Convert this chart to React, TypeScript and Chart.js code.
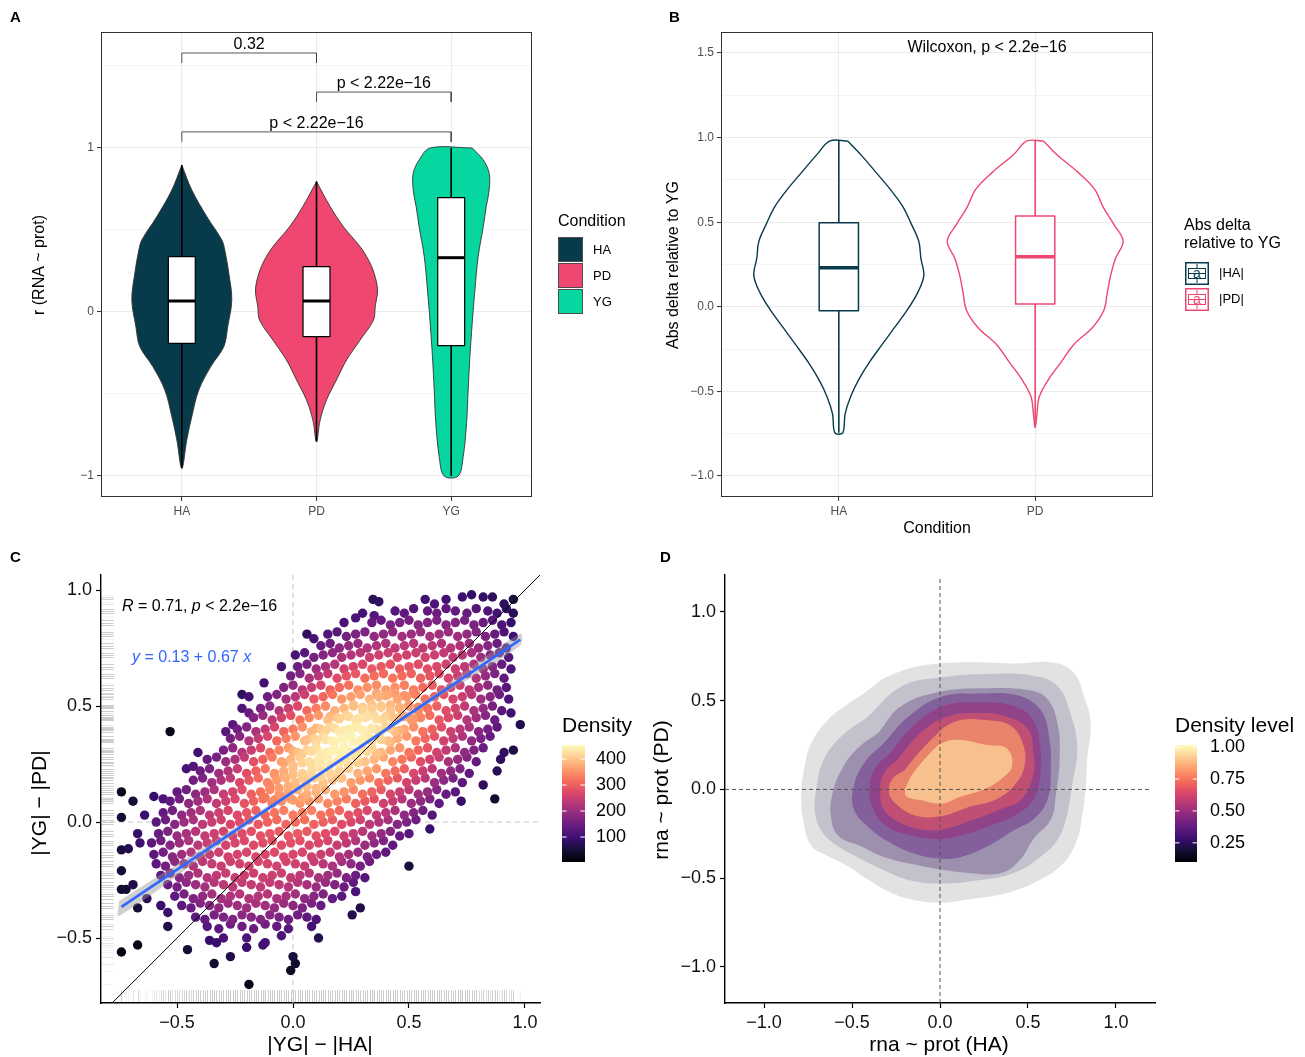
import React, { useEffect, useRef } from "react";
import { Chart, registerables } from "chart.js";

Chart.register(...registerables);

const FONT = "'Liberation Sans', Arial, Helvetica, sans-serif";
const MINUS = "\u2212";

/* ================= Panel A data ================= */
const condA = ["HA", "PD", "YG"];
const condColors = ["#073B4C", "#EF476F", "#06D6A0"];
const vioA_HA_y = [0.896, 0.744, 0.581, 0.439, 0.378, 0.236, 0.073, -0.089, -0.211, -0.333, -0.476, -0.638, -0.78, -0.953];
const vioA_HA_w = [0, 0.074, 0.186, 0.297, 0.319, 0.349, 0.371, 0.341, 0.312, 0.215, 0.126, 0.074, 0.037, 0];
const vioA_PD_y = [0.795, 0.642, 0.52, 0.398, 0.317, 0.236, 0.134, 0.033, -0.049, -0.171, -0.293, -0.415, -0.537, -0.659, -0.791];
const vioA_PD_w = [0, 0.102, 0.2, 0.324, 0.386, 0.428, 0.453, 0.436, 0.423, 0.324, 0.223, 0.148, 0.074, 0.027, 0];
const vioA_YG_y = [1.0, 0.927, 0.846, 0.744, 0.642, 0.52, 0.337, 0.134, -0.069, -0.272, -0.476, -0.679, -0.882, -1.0];
const vioA_YG_w = [0.156, 0.238, 0.282, 0.282, 0.26, 0.238, 0.2, 0.176, 0.156, 0.139, 0.126, 0.114, 0.089, 0.052];
const boxA_lo = [-0.953, -0.791, -1.0];
const boxA_q1 = [-0.191, -0.15, -0.205];
const boxA_med = [0.067, 0.067, 0.331];
const boxA_q3 = [0.337, 0.276, 0.697];
const boxA_hi = [0.896, 0.795, 1.0];
const brA_from = [1, 2, 1];
const brA_to = [2, 3, 3];
const brA_y = [1.579, 1.341, 1.098];
const brA_label = ["0.32", "p < 2.22e" + MINUS + "16", "p < 2.22e" + MINUS + "16"];
const yMajorA = [-1, 0, 1];
const yMinorA = [-0.5, 0.5, 1.5];

/* ================= Panel B data ================= */
const condB = ["HA", "PD"];
const condBLabels = ["|HA|", "|PD|"];
const vioB_HA_y = [0.98, 0.898, 0.796, 0.694, 0.592, 0.49, 0.388, 0.286, 0.184, 0.082, -0.02, -0.122, -0.224, -0.327, -0.429, -0.531, -0.633, -0.745];
const vioB_HA_w = [0.045, 0.113, 0.188, 0.262, 0.326, 0.369, 0.407, 0.418, 0.433, 0.401, 0.348, 0.284, 0.22, 0.156, 0.102, 0.06, 0.032, 0.02];
const vioB_PD_y = [0.98, 0.898, 0.796, 0.694, 0.592, 0.49, 0.388, 0.286, 0.184, 0.082, -0.02, -0.122, -0.224, -0.327, -0.429, -0.531, -0.633, -0.714];
const vioB_PD_w = [0.042, 0.111, 0.217, 0.303, 0.345, 0.399, 0.448, 0.409, 0.384, 0.367, 0.35, 0.292, 0.196, 0.132, 0.068, 0.021, 0.009, 0];
const boxB_lo = [-0.745, -0.714];
const boxB_q1 = [-0.024, 0.016];
const boxB_med = [0.231, 0.296];
const boxB_q3 = [0.496, 0.537];
const boxB_hi = [0.98, 0.98];
const yMajorB = [-1, -0.5, 0, 0.5, 1, 1.5];
const yMinorB = [-0.75, -0.25, 0.25, 0.75, 1.25];

/* ================= Panel C data ================= */
const corrR = 0.71;
const regIntercept = 0.13;
const regSlope = 0.67;
const bandX = [-0.75, -0.3, 0.15, 0.6, 0.98];
const bandHalf = [0.032, 0.016, 0.009, 0.014, 0.026];
const ticksC = [-0.5, 0, 0.5, 1.0];
const cbC_ticks = [100, 200, 300, 400];
const cbC_min = 4;
const cbC_max = 454;
const ptsC: number[][] = [
  [.345,.96],[.37,.95],[.57,.96],[.61,.94],[.66,.96],[.73,.97],[.77,.98],[.82,.97],[.86,.97],[.91,.94],[.95,.96],
  [.27,.88],[.30,.90],[.35,.89],[.44,.91],[.48,.90],[.52,.92],[.58,.91],[.62,.90],[.66,.92],[.70,.91],[.75,.90],[.79,.92],[.84,.91],[.88,.90],[.92,.92],[.95,.90],
  [.22,.86],[.34,.86],[.38,.87],[.42,.85],[.46,.86],[.50,.87],[.54,.85],[.58,.86],[.62,.87],[.66,.85],[.70,.86],[.74,.87],[.78,.85],[.82,.86],[.86,.87],[.90,.85],[.94,.86],
  [.06,.81],[.09,.79],[.15,.81],[.19,.82],[.23,.80],[.27,.81],[.31,.82],[.35,.80],[.39,.81],[.43,.82],[.47,.80],[.51,.81],[.55,.82],[.59,.80],[.63,.81],[.67,.82],[.71,.80],[.75,.81],[.79,.82],[.83,.80],[.87,.81],[.91,.82],[.95,.80],
  [.12,.76],[.16,.77],[.20,.75],[.24,.76],[.28,.77],[.32,.75],[.36,.76],[.40,.77],[.44,.75],[.48,.76],[.52,.77],[.56,.75],[.60,.76],[.64,.77],[.68,.75],[.72,.76],[.76,.77],[.80,.75],[.84,.76],[.88,.77],[.92,.75],
  [.01,.72],[.05,.73],[.09,.71],[.13,.72],[.17,.73],[.21,.71],[.25,.72],[.29,.73],[.33,.71],[.37,.72],[.41,.73],[.45,.71],[.49,.72],[.53,.73],[.57,.71],[.61,.72],[.65,.73],[.69,.71],[.73,.72],[.77,.73],[.81,.71],[.85,.72],[.89,.73],[.93,.71],
  [-.05,.67],[.02,.67],[.06,.68],[.10,.66],[.14,.67],[.18,.68],[.22,.66],[.26,.67],[.30,.68],[.34,.66],[.38,.67],[.42,.68],[.46,.66],[.50,.67],[.54,.68],[.58,.66],[.62,.67],[.66,.68],[.70,.66],[.74,.67],[.78,.68],[.82,.66],[.86,.67],[.90,.68],[.94,.66],
  [-.125,.60],[-.01,.63],[.03,.64],[.07,.62],[.11,.63],[.15,.64],[.19,.62],[.23,.63],[.27,.64],[.31,.62],[.35,.63],[.39,.64],[.43,.62],[.47,.63],[.51,.64],[.55,.62],[.59,.63],[.63,.64],[.67,.62],[.71,.63],[.75,.64],[.79,.62],[.83,.63],[.87,.64],[.91,.62],
  [-.04,.58],[.00,.59],[.04,.57],[.08,.58],[.12,.59],[.16,.57],[.20,.58],[.24,.59],[.28,.57],[.32,.58],[.36,.59],[.40,.57],[.44,.58],[.48,.59],[.52,.57],[.56,.58],[.60,.59],[.64,.57],[.68,.58],[.72,.59],[.76,.57],[.80,.58],[.84,.59],[.88,.57],[.92,.58],
  [-.22,.55],[-.19,.54],[-.11,.54],[-.07,.55],[-.03,.53],[.01,.54],[.05,.55],[.09,.53],[.13,.54],[.17,.55],[.21,.53],[.25,.54],[.29,.55],[.33,.53],[.37,.54],[.41,.55],[.45,.53],[.49,.54],[.53,.55],[.57,.53],[.61,.54],[.65,.55],[.69,.53],[.73,.54],[.77,.55],[.81,.53],[.85,.54],[.89,.55],[.93,.53],
  [-.22,.49],[-.19,.47],[-.14,.49],[-.10,.50],[-.06,.48],[-.02,.49],[.02,.50],[.06,.48],[.10,.49],[.14,.50],[.18,.48],[.22,.49],[.26,.50],[.30,.48],[.34,.49],[.38,.50],[.42,.48],[.46,.49],[.50,.50],[.54,.48],[.58,.49],[.62,.50],[.66,.48],[.70,.49],[.74,.50],[.78,.48],[.82,.49],[.86,.50],[.90,.48],[.94,.47],
  [-.26,.42],[-.17,.45],[-.13,.46],[-.09,.44],[-.05,.45],[-.01,.46],[.03,.44],[.07,.45],[.11,.46],[.15,.44],[.19,.45],[.23,.46],[.27,.44],[.31,.45],[.35,.46],[.39,.44],[.43,.45],[.47,.46],[.51,.44],[.55,.45],[.59,.46],[.63,.44],[.67,.45],[.71,.46],[.75,.44],[.79,.45],[.83,.46],[.87,.44],[.98,.42],
  [-.53,.39],[-.29,.39],[-.24,.40],[-.20,.41],[-.16,.39],[-.12,.40],[-.08,.41],[-.04,.39],[.00,.40],[.04,.41],[.08,.39],[.12,.40],[.16,.41],[.20,.39],[.24,.40],[.28,.41],[.32,.39],[.36,.40],[.40,.41],[.44,.39],[.48,.40],[.52,.41],[.56,.39],[.60,.40],[.64,.41],[.68,.39],[.72,.40],[.76,.41],[.80,.39],[.84,.40],[.88,.41],
  [-.27,.36],[-.23,.37],[-.19,.35],[-.15,.36],[-.11,.37],[-.07,.35],[-.03,.36],[.01,.37],[.05,.35],[.09,.36],[.13,.37],[.17,.35],[.21,.36],[.25,.37],[.29,.35],[.33,.36],[.37,.37],[.41,.35],[.45,.36],[.49,.37],[.53,.35],[.57,.36],[.61,.37],[.65,.35],[.69,.36],[.73,.37],[.77,.35],[.81,.36],[.85,.37],
  [-.41,.30],[-.30,.31],[-.26,.32],[-.22,.30],[-.18,.31],[-.14,.32],[-.10,.30],[-.06,.31],[-.02,.32],[.02,.30],[.06,.31],[.10,.32],[.14,.30],[.18,.31],[.22,.32],[.26,.30],[.30,.31],[.34,.32],[.38,.30],[.42,.31],[.46,.32],[.50,.30],[.54,.31],[.58,.32],[.62,.30],[.66,.31],[.70,.32],[.74,.30],[.78,.31],[.82,.32],[.91,.30],[.95,.31],
  [-.37,.27],[-.33,.28],[-.29,.26],[-.25,.27],[-.21,.28],[-.17,.26],[-.13,.27],[-.09,.28],[-.05,.26],[-.01,.27],[.03,.28],[.07,.26],[.11,.27],[.15,.28],[.19,.26],[.23,.27],[.27,.28],[.31,.26],[.35,.27],[.39,.28],[.43,.26],[.47,.27],[.51,.28],[.55,.26],[.59,.27],[.63,.28],[.67,.26],[.71,.27],[.75,.28],[.79,.26],[.895,.27],
  [-.46,.23],[-.43,.24],[-.40,.22],[-.36,.23],[-.32,.21],[-.28,.22],[-.24,.23],[-.20,.21],[-.16,.22],[-.12,.23],[-.08,.21],[-.04,.22],[.00,.23],[.04,.21],[.08,.22],[.12,.23],[.16,.21],[.20,.22],[.24,.23],[.28,.21],[.32,.22],[.36,.23],[.40,.21],[.44,.22],[.48,.23],[.52,.21],[.56,.22],[.60,.23],[.64,.21],[.68,.22],[.72,.23],[.76,.21],[.88,.22],
  [-.43,.18],[-.39,.19],[-.35,.17],[-.31,.18],[-.27,.19],[-.23,.17],[-.19,.18],[-.15,.19],[-.11,.17],[-.07,.18],[-.03,.19],[.01,.17],[.05,.18],[.09,.19],[.13,.17],[.17,.18],[.21,.19],[.25,.17],[.29,.18],[.33,.19],[.37,.17],[.41,.18],[.45,.19],[.49,.17],[.53,.18],[.57,.19],[.61,.17],[.65,.18],[.69,.19],[.73,.17],[.82,.16],
  [-.74,.13],[-.50,.13],[-.46,.14],[-.42,.12],[-.38,.13],[-.34,.14],[-.30,.12],[-.26,.13],[-.22,.14],[-.18,.12],[-.14,.13],[-.10,.14],[-.06,.12],[-.02,.13],[.02,.14],[.06,.12],[.10,.13],[.14,.14],[.18,.12],[.22,.13],[.26,.14],[.30,.12],[.34,.13],[.38,.14],[.42,.12],[.46,.13],[.50,.14],[.54,.12],[.58,.13],[.62,.14],[.66,.12],[.70,.13],
  [-.69,.09],[-.60,.11],[-.56,.10],[-.53,.09],[-.49,.10],[-.45,.08],[-.41,.09],[-.37,.10],[-.33,.08],[-.29,.09],[-.25,.10],[-.21,.08],[-.17,.09],[-.13,.10],[-.09,.08],[-.05,.09],[-.01,.10],[.03,.08],[.07,.09],[.11,.10],[.15,.08],[.19,.09],[.23,.10],[.27,.08],[.31,.09],[.35,.10],[.39,.08],[.43,.09],[.47,.10],[.51,.08],[.55,.09],[.59,.10],[.63,.08],[.725,.09],[.87,.10],
  [-.74,.02],[-.64,.03],[-.56,.04],[-.52,.05],[-.48,.03],[-.44,.04],[-.40,.05],[-.36,.03],[-.32,.04],[-.28,.05],[-.24,.03],[-.20,.04],[-.16,.05],[-.12,.03],[-.08,.04],[-.04,.05],[.00,.03],[.04,.04],[.08,.05],[.12,.03],[.16,.04],[.20,.05],[.24,.03],[.28,.04],[.32,.05],[.36,.03],[.40,.04],[.44,.05],[.48,.03],[.52,.04],[.56,.05],[.60,.03],
  [-.59,.00],[-.55,.01],[-.51,-.01],[-.47,.00],[-.43,.01],[-.39,-.01],[-.35,.00],[-.31,.01],[-.27,-.01],[-.23,.00],[-.19,.01],[-.15,-.01],[-.11,.00],[-.07,.01],[-.03,-.01],[.01,.00],[.05,.01],[.09,-.01],[.13,.00],[.17,.01],[.21,-.01],[.25,.00],[.29,.01],[.33,-.01],[.37,.00],[.41,.01],[.45,-.01],[.49,.00],[.53,.01],[.59,-.03],
  [-.67,-.05],[-.58,-.05],[-.54,-.04],[-.50,-.06],[-.46,-.05],[-.42,-.04],[-.38,-.06],[-.34,-.05],[-.30,-.04],[-.26,-.06],[-.22,-.05],[-.18,-.04],[-.14,-.06],[-.10,-.05],[-.06,-.04],[-.02,-.06],[.02,-.05],[.06,-.04],[.10,-.06],[.14,-.05],[.18,-.04],[.22,-.06],[.26,-.05],[.30,-.04],[.34,-.06],[.38,-.05],[.42,-.04],[.46,-.06],[.50,-.05],
  [-.66,-.09],[-.61,-.09],[-.57,-.08],[-.53,-.10],[-.49,-.09],[-.45,-.08],[-.41,-.10],[-.37,-.09],[-.33,-.08],[-.29,-.10],[-.25,-.09],[-.21,-.08],[-.17,-.10],[-.13,-.09],[-.09,-.08],[-.05,-.10],[-.01,-.09],[.03,-.08],[.07,-.10],[.11,-.09],[.15,-.08],[.19,-.10],[.23,-.09],[.27,-.08],[.31,-.10],[.35,-.09],[.39,-.08],[.43,-.10],
  [-.74,-.12],[-.71,-.115],[-.60,-.14],[-.56,-.13],[-.52,-.15],[-.48,-.14],[-.44,-.13],[-.40,-.15],[-.36,-.14],[-.32,-.13],[-.28,-.15],[-.24,-.14],[-.20,-.13],[-.16,-.15],[-.12,-.14],[-.08,-.13],[-.04,-.15],[.00,-.14],[.04,-.13],[.08,-.15],[.12,-.14],[.16,-.13],[.20,-.15],[.24,-.14],[.28,-.13],[.32,-.15],[.36,-.14],[.40,-.13],
  [-.74,-.21],[-.59,-.18],[-.55,-.19],[-.51,-.17],[-.47,-.18],[-.43,-.19],[-.39,-.17],[-.35,-.18],[-.31,-.19],[-.27,-.17],[-.23,-.18],[-.19,-.19],[-.15,-.17],[-.11,-.18],[-.07,-.19],[-.03,-.17],[.01,-.18],[.05,-.19],[.09,-.17],[.13,-.18],[.17,-.19],[.21,-.17],[.25,-.18],[.29,-.19],[.33,-.17],[.50,-.19],
  [-.57,-.23],[-.53,-.22],[-.49,-.24],[-.45,-.23],[-.41,-.22],[-.37,-.24],[-.33,-.23],[-.29,-.22],[-.25,-.24],[-.21,-.23],[-.17,-.22],[-.13,-.24],[-.09,-.23],[-.05,-.22],[-.01,-.24],[.03,-.23],[.07,-.22],[.11,-.24],[.15,-.23],[.19,-.22],[.23,-.24],[.27,-.23],[.31,-.24],
  [-.74,-.29],[-.72,-.29],[-.69,-.27],[-.54,-.27],[-.50,-.28],[-.46,-.26],[-.42,-.27],[-.38,-.28],[-.34,-.26],[-.30,-.27],[-.26,-.28],[-.22,-.26],[-.18,-.27],[-.14,-.28],[-.10,-.26],[-.06,-.27],[-.02,-.28],[.02,-.26],[.06,-.27],[.10,-.28],[.14,-.26],[.18,-.27],[.22,-.28],[.26,-.26],
  [-.63,-.33],[-.51,-.32],[-.47,-.31],[-.43,-.33],[-.39,-.32],[-.35,-.31],[-.31,-.33],[-.27,-.32],[-.23,-.31],[-.19,-.33],[-.15,-.32],[-.11,-.31],[-.07,-.33],[-.03,-.32],[.01,-.31],[.05,-.33],[.09,-.32],[.13,-.31],[.17,-.33],[.21,-.32],[.27,-.30],
  [-.67,-.37],[-.57,-.36],[-.48,-.36],[-.44,-.37],[-.40,-.35],[-.36,-.36],[-.32,-.37],[-.28,-.35],[-.24,-.36],[-.20,-.37],[-.16,-.35],[-.12,-.36],[-.08,-.37],[-.04,-.35],[.00,-.36],[.04,-.37],[.08,-.35],[.12,-.36],[.255,-.40],[.29,-.37],
  [-.54,-.39],[-.42,-.41],[-.38,-.42],[-.34,-.40],[-.30,-.41],[-.26,-.42],[-.22,-.40],[-.18,-.41],[-.14,-.42],[-.10,-.40],[-.06,-.41],[-.02,-.42],[.02,-.40],[.06,-.41],[.10,-.42],
  [-.54,-.45],[-.37,-.45],[-.32,-.46],[-.27,-.44],[-.22,-.45],[-.17,-.46],[-.12,-.44],[-.07,-.45],[-.02,-.46],[.08,-.45],[.11,-.50],
  [-.36,-.51],[-.30,-.50],[-.20,-.50],[-.12,-.52],[-.05,-.49],
  [-.74,-.56],[-.67,-.53],[-.455,-.55],[-.33,-.52],[-.27,-.58],[-.20,-.54],[-.13,-.53],[-.34,-.61],[-.01,-.64],[.00,-.58],[.01,-.61],[-.19,-.70],
  [.36,.555],[.40,.545],[.44,.555],[.48,.545],[.52,.555],
  [.26,.505],[.30,.495],[.34,.505],[.38,.495],[.42,.505],[.46,.495],[.50,.505],[.54,.495],
  [.16,.455],[.20,.445],[.24,.455],[.28,.445],[.32,.455],[.36,.445],[.40,.455],[.44,.445],[.48,.455],[.52,.445],
  [.10,.405],[.14,.395],[.18,.405],[.22,.395],[.26,.405],[.30,.395],[.34,.405],[.38,.395],[.42,.405],[.46,.395],
  [.06,.355],[.10,.345],[.14,.355],[.18,.345],[.22,.355],[.26,.345],[.30,.355],[.34,.345],[.38,.355],[.42,.345],
  [.00,.305],[.04,.295],[.08,.305],[.12,.295],[.16,.305],[.20,.295],[.24,.305],[.28,.295],[.32,.305],[.36,.295],
  [-.04,.255],[.00,.245],[.04,.255],[.08,.245],[.12,.255],[.16,.245],[.20,.255],[.24,.245],[.28,.255],
  [-.08,.205],[-.04,.195],[.00,.205],[.04,.195],[.08,.205],[.12,.195],[.16,.205],[.20,.195],
  [-.10,.155],[-.06,.145],[-.02,.155],[.02,.145],[.06,.155],[.10,.145],
  [-.12,.105],[-.08,.095],[-.04,.105],[.00,.095],[.04,.105],
];

/* ================= Panel D data ================= */
const ticksD = [-1, -0.5, 0, 0.5, 1];
const contourColors = ["#e2e2e2", "#c3c1cb", "#9d8fae", "#83609b", "#91438a", "#c14f73", "#ea836b", "#f8c08c"];
const contourX = [
  [-0.334, -0.164, 0.002, 0.195, 0.44, 0.648, 0.761, 0.818, 0.856, 0.837, 0.827, 0.808, 0.78, 0.704, 0.572, 0.383, 0.157, 0.002, -0.164, -0.278, -0.41, -0.523, -0.636, -0.731, -0.778, -0.788, -0.769, -0.731, -0.636, -0.542, -0.429],
  [-0.41, -0.22, 0, 0.27, 0.53, 0.67, 0.74, 0.78, 0.75, 0.72, 0.67, 0.57, 0.42, 0.23, 0, -0.18, -0.33, -0.47, -0.58, -0.67, -0.71, -0.7, -0.66, -0.56],
  [-0.35, -0.22, 0, 0.25, 0.5, 0.61, 0.67, 0.68, 0.66, 0.63, 0.53, 0.46, 0.35, 0.16, 0, -0.16, -0.32, -0.45, -0.58, -0.62, -0.61, -0.56, -0.47],
  [-0.32, -0.18, 0, 0.23, 0.44, 0.57, 0.62, 0.63, 0.61, 0.53, 0.42, 0.27, 0.12, 0, -0.15, -0.3, -0.41, -0.49, -0.49, -0.43],
  [-0.28, -0.15, 0.02, 0.23, 0.42, 0.53, 0.57, 0.57, 0.53, 0.42, 0.27, 0.12, 0, -0.16, -0.3, -0.38, -0.4, -0.36],
  [-0.24, -0.11, 0.04, 0.23, 0.38, 0.5, 0.53, 0.53, 0.46, 0.35, 0.19, 0.04, -0.07, -0.22, -0.32, -0.34, -0.32],
  [-0.2, -0.07, 0.08, 0.27, 0.4, 0.47, 0.48, 0.42, 0.31, 0.16, 0.01, -0.13, -0.24, -0.29, -0.27],
  [-0.2, -0.16, -0.07, 0.01, 0.1, 0.27, 0.38, 0.41, 0.35, 0.25, 0.12, 0.01, -0.11, -0.19],
];
const contourY = [
  [0.62, 0.685, 0.71, 0.717, 0.71, 0.714, 0.657, 0.526, 0.376, 0.169, 0, -0.15, -0.282, -0.413, -0.507, -0.582, -0.62, -0.638, -0.62, -0.582, -0.507, -0.432, -0.376, -0.319, -0.169, -0.019, 0.131, 0.263, 0.394, 0.469, 0.545],
  [0.41, 0.58, 0.63, 0.65, 0.64, 0.58, 0.43, 0.24, 0.02, -0.15, -0.28, -0.38, -0.47, -0.51, -0.53, -0.51, -0.45, -0.38, -0.32, -0.24, -0.13, 0.02, 0.17, 0.3],
  [0.32, 0.47, 0.55, 0.57, 0.56, 0.51, 0.36, 0.17, -0.02, -0.17, -0.28, -0.39, -0.47, -0.47, -0.45, -0.42, -0.38, -0.32, -0.26, -0.15, -0.02, 0.11, 0.23],
  [0.26, 0.41, 0.52, 0.54, 0.53, 0.45, 0.3, 0.11, -0.06, -0.17, -0.23, -0.32, -0.38, -0.39, -0.36, -0.29, -0.21, -0.11, 0.02, 0.15],
  [0.21, 0.36, 0.47, 0.49, 0.47, 0.39, 0.24, 0.08, -0.06, -0.15, -0.21, -0.26, -0.28, -0.26, -0.21, -0.11, 0.02, 0.13],
  [0.17, 0.32, 0.41, 0.43, 0.41, 0.34, 0.21, 0.08, -0.06, -0.11, -0.17, -0.22, -0.23, -0.19, -0.11, 0, 0.09],
  [0.11, 0.26, 0.38, 0.39, 0.36, 0.26, 0.13, 0.02, -0.06, -0.1, -0.15, -0.15, -0.09, -0.02, 0.06],
  [0, 0.08, 0.19, 0.26, 0.28, 0.25, 0.23, 0.13, 0.06, 0, -0.04, -0.08, -0.06, -0.04],
];
const cbD_ticks = [0.25, 0.5, 0.75, 1.0];
const cbD_min = 0.1;
const cbD_max = 1.016;

/* ================= helpers ================= */
const MAGMA = ["#000004", "#140e36", "#3b0f70", "#641a80", "#8c2981", "#b73779", "#de4968", "#f7705c", "#fe9f6d", "#fecf92", "#fcfdbf"];

function hexRgb(h: string) {
  return [parseInt(h.slice(1, 3), 16), parseInt(h.slice(3, 5), 16), parseInt(h.slice(5, 7), 16)];
}
function magma(t: number) {
  t = Math.max(0, Math.min(1, t));
  const n = MAGMA.length - 1;
  const i = Math.min(n - 1, Math.floor(t * n));
  const f = t * n - i;
  const a = hexRgb(MAGMA[i]), b = hexRgb(MAGMA[i + 1]);
  const c = a.map((v, k) => Math.round(v + (b[k] - v) * f));
  return `rgb(${c[0]},${c[1]},${c[2]})`;
}

type P = { x: number; y: number };
function same(a: P, b: P) {
  return Math.abs(a.x - b.x) < 1e-9 && Math.abs(a.y - b.y) < 1e-9;
}
function dedupe(pts: P[]) {
  const out: P[] = [];
  for (const p of pts) if (!out.length || !same(out[out.length - 1], p)) out.push(p);
  return out;
}
function closeLoop(pts: P[]) {
  if (!same(pts[0], pts[pts.length - 1])) pts.push({ ...pts[0] });
  return pts;
}
function violinPts(c: number, ys: number[], ws: number[]) {
  const pts: P[] = [];
  for (let i = 0; i < ys.length; i++) pts.push({ x: c + ws[i], y: ys[i] });
  for (let i = ys.length - 1; i >= 0; i--) pts.push({ x: c - ws[i], y: ys[i] });
  return closeLoop(dedupe(pts));
}
function polyPts(xs: number[], ys: number[]) {
  return closeLoop(xs.map((x, i) => ({ x, y: ys[i] })));
}
function rectPts(c: number, hw: number, lo: number, hi: number) {
  return [{ x: c - hw, y: lo }, { x: c + hw, y: lo }, { x: c + hw, y: hi }, { x: c - hw, y: hi }, { x: c - hw, y: lo }];
}
function lineDs(data: P[], o: any = {}) {
  return {
    data,
    showLine: true,
    pointRadius: 0,
    pointHoverRadius: 0,
    borderWidth: o.w ?? 1,
    borderColor: o.stroke ?? "rgba(0,0,0,0)",
    backgroundColor: o.fill ?? "rgba(0,0,0,0)",
    fill: o.fill ? "shape" : false,
    tension: o.tension ?? 0,
    borderDash: o.dash ?? [],
    borderCapStyle: o.cap ?? "butt",
    borderJoinStyle: "round",
  };
}
function finalizeOrder(ds: any[]) {
  ds.forEach((d, i) => (d.order = ds.length - i));
  return ds;
}
function signed(v: number, digits: number) {
  const s = Math.abs(v).toFixed(digits);
  return v < 0 && Math.abs(v) > 1e-12 ? MINUS + s : s;
}

function text(ctx: CanvasRenderingContext2D, s: string, x: number, y: number, o: any = {}) {
  ctx.save();
  ctx.font = `${o.style || "normal"} ${o.weight || "normal"} ${o.size || 12}px ${FONT}`;
  ctx.fillStyle = o.color || "#000000";
  ctx.textAlign = o.align || "left";
  ctx.textBaseline = o.baseline || "middle";
  if (o.rotate) {
    ctx.translate(x, y);
    ctx.rotate(o.rotate);
    ctx.fillText(s, 0, 0);
  } else ctx.fillText(s, x, y);
  ctx.restore();
}
function richText(ctx: CanvasRenderingContext2D, parts: [string, boolean][], x: number, y: number, size: number, color: string) {
  ctx.save();
  ctx.fillStyle = color;
  ctx.textBaseline = "middle";
  ctx.textAlign = "left";
  let cx = x;
  for (const [s, it] of parts) {
    ctx.font = `${it ? "italic " : ""}${size}px ${FONT}`;
    ctx.fillText(s, cx, y);
    cx += ctx.measureText(s).width;
  }
  ctx.restore();
}
function colorbar(ctx: CanvasRenderingContext2D, x: number, y: number, w: number, h: number, vmin: number, vmax: number, ticks: number[], labels: string[], labelX: number, size: number) {
  ctx.save();
  const g = ctx.createLinearGradient(0, y + h, 0, y);
  MAGMA.forEach((c, i) => g.addColorStop(i / (MAGMA.length - 1), c));
  ctx.fillStyle = g;
  ctx.fillRect(x, y, w, h);
  ctx.strokeStyle = "#ffffff";
  ctx.lineWidth = 1;
  ticks.forEach((t, i) => {
    const py = y + h - ((t - vmin) / (vmax - vmin)) * h;
    ctx.beginPath();
    ctx.moveTo(x, py);
    ctx.lineTo(x + w / 5, py);
    ctx.moveTo(x + w - w / 5, py);
    ctx.lineTo(x + w, py);
    ctx.stroke();
    text(ctx, labels[i], labelX, py, { size });
  });
  ctx.restore();
}
function panelBorder(chart: any) {
  const { ctx, chartArea: ca } = chart;
  ctx.save();
  ctx.strokeStyle = "#333333";
  ctx.lineWidth = 1;
  ctx.strokeRect(ca.left + 0.5, ca.top + 0.5, ca.right - ca.left - 1, ca.bottom - ca.top - 1);
  ctx.restore();
}

function bwScale(o: any) {
  const isMajor = (v: number) => o.major.some((m: number) => Math.abs(m - v) < 1e-9);
  return {
    type: "linear",
    min: o.min,
    max: o.max,
    bounds: "data",
    afterBuildTicks: (s: any) => {
      s.ticks = [...o.major, ...o.minor].sort((a: number, b: number) => a - b).map((v: number) => ({ value: v }));
    },
    afterFit: (s: any) => {
      if (o.fitW != null) s.width = o.fitW;
      if (o.fitH != null) s.height = o.fitH;
      s.paddingLeft = 0; s.paddingRight = 0; s.paddingTop = 0; s.paddingBottom = 0;
    },
    ticks: {
      autoSkip: false, maxRotation: 0, minRotation: 0, padding: 3,
      color: "#4D4D4D", font: { family: FONT, size: 12 },
      callback: (v: number) => (isMajor(v) ? o.label(v) : ""),
    },
    grid: {
      display: true, drawOnChartArea: true, drawTicks: true, tickLength: 4,
      color: "#EBEBEB",
      lineWidth: (c: any) => (c.tick && isMajor(c.tick.value) ? 1.1 : 0.55),
      tickColor: (c: any) => (c.tick && isMajor(c.tick.value) ? "#333333" : "rgba(0,0,0,0)"),
      tickWidth: 1,
    },
    border: { display: false },
  };
}
function classicScale(o: any) {
  return {
    type: "linear",
    min: o.min,
    max: o.max,
    bounds: "data",
    afterBuildTicks: (s: any) => {
      s.ticks = o.major.map((v: number) => ({ value: v }));
    },
    afterFit: (s: any) => {
      if (o.fitW != null) s.width = o.fitW;
      if (o.fitH != null) s.height = o.fitH;
      s.paddingLeft = 0; s.paddingRight = 0; s.paddingTop = 0; s.paddingBottom = 0;
    },
    ticks: {
      autoSkip: false, maxRotation: 0, minRotation: 0, padding: 4,
      color: "#111111", font: { family: FONT, size: 18 },
      callback: (v: number) => signed(v, 1),
    },
    grid: { display: true, drawOnChartArea: false, drawTicks: true, tickLength: 5, tickColor: "#000000", tickWidth: 1.2 },
    border: { display: true, color: "#000000", width: 1.4 },
  };
}
function baseOptions(pad: any, scales: any) {
  return {
    responsive: false,
    maintainAspectRatio: false,
    animation: false,
    devicePixelRatio: 1,
    events: [],
    layout: { padding: pad },
    plugins: { legend: { display: false }, tooltip: { enabled: false } },
    scales,
  };
}

/* ================= Panel A ================= */
function makeA() {
  const ds: any[] = [];
  const vy = [vioA_HA_y, vioA_PD_y, vioA_YG_y];
  const vw = [vioA_HA_w, vioA_PD_w, vioA_YG_w];
  condA.forEach((_, i) => ds.push(lineDs(violinPts(i + 1, vy[i], vw[i]), { fill: condColors[i], stroke: "#333333", w: 0.9, tension: 0.35 })));
  condA.forEach((_, i) => ds.push(lineDs([{ x: i + 1, y: boxA_lo[i] }, { x: i + 1, y: boxA_hi[i] }], { stroke: "#000000", w: 1.6 })));
  condA.forEach((_, i) => ds.push(lineDs(rectPts(i + 1, 0.1, boxA_q1[i], boxA_q3[i]), { fill: "#ffffff", stroke: "#000000", w: 1.2 })));
  condA.forEach((_, i) => ds.push(lineDs([{ x: i + 0.9, y: boxA_med[i] }, { x: i + 1.1, y: boxA_med[i] }], { stroke: "#000000", w: 3 })));
  brA_label.forEach((_, i) => {
    const d = 0.061;
    ds.push(lineDs([{ x: brA_from[i], y: brA_y[i] - d }, { x: brA_from[i], y: brA_y[i] }, { x: brA_to[i], y: brA_y[i] }, { x: brA_to[i], y: brA_y[i] - d }], { stroke: "#444444", w: 0.9 }));
  });
  finalizeOrder(ds);
  return {
    type: "scatter",
    data: { datasets: ds },
    options: baseOptions({ left: 0, top: 32, right: 118, bottom: 0 }, {
      x: bwScale({ min: 0.4, max: 3.6, major: [1, 2, 3], minor: [], fitH: 43, label: (v: number) => condA[Math.round(v) - 1] ?? "" }),
      y: bwScale({ min: -1.128, max: 1.707, major: yMajorA, minor: yMinorA, fitW: 101, label: (v: number) => signed(v, 0) }),
    }),
    plugins: [{
      id: "decorA",
      afterDraw(chart: any) {
        const { ctx, scales } = chart;
        panelBorder(chart);
        brA_label.forEach((lab, i) => {
          text(ctx, lab, scales.x.getPixelForValue((brA_from[i] + brA_to[i]) / 2), scales.y.getPixelForValue(brA_y[i]) - 4, { size: 16, align: "center", baseline: "alphabetic" });
        });
        text(ctx, "A", 10, 18, { size: 15, weight: "bold" });
        text(ctx, "r (RNA ~ prot)", 40, 265, { size: 16, align: "center", rotate: -Math.PI / 2 });
        text(ctx, "Condition", 558, 222, { size: 16 });
        condA.forEach((c, i) => {
          const ky = 237 + i * 26;
          ctx.save();
          ctx.fillStyle = condColors[i];
          ctx.fillRect(558, ky, 25, 25);
          ctx.strokeStyle = "#4D4D4D";
          ctx.lineWidth = 1;
          ctx.strokeRect(558.5, ky + 0.5, 24, 24);
          ctx.restore();
          text(ctx, c, 593, ky + 13, { size: 13 });
        });
      },
    }],
  };
}

/* ================= Panel B ================= */
function makeB() {
  const ds: any[] = [];
  const vy = [vioB_HA_y, vioB_PD_y];
  const vw = [vioB_HA_w, vioB_PD_w];
  condB.forEach((_, i) => ds.push(lineDs(violinPts(i + 1, vy[i], vw[i]), { stroke: condColors[i], w: 1.4, tension: 0.35 })));
  condB.forEach((_, i) => ds.push(lineDs([{ x: i + 1, y: boxB_lo[i] }, { x: i + 1, y: boxB_hi[i] }], { stroke: condColors[i], w: 1.6 })));
  condB.forEach((_, i) => ds.push(lineDs(rectPts(i + 1, 0.1, boxB_q1[i], boxB_q3[i]), { fill: "#ffffff", stroke: condColors[i], w: 1.5 })));
  condB.forEach((_, i) => ds.push(lineDs([{ x: i + 0.9, y: boxB_med[i] }, { x: i + 1.1, y: boxB_med[i] }], { stroke: condColors[i], w: 3.5 })));
  finalizeOrder(ds);
  return {
    type: "scatter",
    data: { datasets: ds },
    options: baseOptions({ left: 0, top: 32, right: 152, bottom: 0 }, {
      x: bwScale({ min: 0.4, max: 2.6, major: [1, 2], minor: [], fitH: 43, label: (v: number) => condB[Math.round(v) - 1] ?? "" }),
      y: bwScale({ min: -1.124, max: 1.624, major: yMajorB, minor: yMinorB, fitW: 71, label: (v: number) => signed(v, 1) }),
    }),
    plugins: [{
      id: "decorB",
      afterDraw(chart: any) {
        const { ctx } = chart;
        panelBorder(chart);
        text(ctx, "Wilcoxon, p < 2.2e" + MINUS + "16", 337, 48, { size: 16, align: "center" });
        text(ctx, "B", 19, 18, { size: 15, weight: "bold" });
        text(ctx, "Abs delta relative to YG", 24, 265, { size: 16, align: "center", rotate: -Math.PI / 2 });
        text(ctx, "Condition", 287, 529, { size: 16, align: "center" });
        text(ctx, "Abs delta", 534, 226, { size: 16 });
        text(ctx, "relative to YG", 534, 244, { size: 16 });
        condBLabels.forEach((lab, i) => {
          const kx = 535, ky = 262 + i * 26, col = condColors[i];
          ctx.save();
          ctx.strokeStyle = col;
          ctx.lineWidth = 1.5;
          ctx.strokeRect(kx + 0.75, ky + 0.75, 22.5, 21.5);
          ctx.lineWidth = 1;
          ctx.strokeRect(kx + 3.5, ky + 6.5, 17, 10);
          ctx.beginPath();
          ctx.moveTo(kx + 3.5, ky + 11.5); ctx.lineTo(kx + 20.5, ky + 11.5);
          ctx.moveTo(kx + 12, ky + 2); ctx.lineTo(kx + 12, ky + 6.5);
          ctx.moveTo(kx + 12, ky + 16.5); ctx.lineTo(kx + 12, ky + 21);
          ctx.stroke();
          ctx.restore();
          text(ctx, "a", kx + 12, ky + 12, { size: 14, align: "center", color: col });
          text(ctx, lab, 569, ky + 11.5, { size: 13 });
        });
      },
    }],
  };
}

/* ================= Panel C ================= */
const xMinC = -0.828, xMaxC = 1.065, yMinC = -0.78, yMaxC = 1.065;
function makeC() {
  const n = ptsC.length;
  const bw = 0.14;
  const k = 1 / (2 * bw * bw);
  const dens = new Array(n).fill(0);
  for (let i = 0; i < n; i++) {
    for (let j = 0; j < n; j++) {
      const dx = ptsC[i][0] - ptsC[j][0], dy = ptsC[i][1] - ptsC[j][1];
      dens[i] += Math.exp(-(dx * dx + dy * dy) * k);
    }
  }
  const dmin = Math.min(...dens), dmax = Math.max(...dens);
  const idx = ptsC.map((_, i) => i).sort((a, b) => dens[a] - dens[b]);
  const pdata = idx.map((i) => ({ x: ptsC[i][0], y: ptsC[i][1] }));
  const pcol = idx.map((i) => magma(0.02 + 0.96 * Math.pow((dens[i] - dmin) / (dmax - dmin), 1.2)));
  const xs = ptsC.map((p) => p[0]);
  const x0 = Math.min(...xs), x1 = Math.max(...xs);
  const fit = (x: number) => regIntercept + regSlope * x;
  const band: P[] = [];
  bandX.forEach((x, i) => band.push({ x, y: fit(x) + bandHalf[i] }));
  for (let i = bandX.length - 1; i >= 0; i--) band.push({ x: bandX[i], y: fit(bandX[i]) - bandHalf[i] });
  band.push({ ...band[0] });

  const ds: any[] = [
    lineDs([{ x: 0, y: yMinC }, { x: 0, y: yMaxC }], { stroke: "#C8C8C8", w: 1.1, dash: [5, 4] }),
    lineDs([{ x: xMinC, y: 0 }, { x: xMaxC, y: 0 }], { stroke: "#C8C8C8", w: 1.1, dash: [5, 4] }),
    {
      data: pdata, showLine: false, pointRadius: 4.7, pointHoverRadius: 4.7, pointBorderWidth: 0,
      pointBackgroundColor: pcol, pointBorderColor: pcol, backgroundColor: pcol, borderColor: pcol,
    },
    lineDs(band, { fill: "rgba(150,150,150,0.45)", w: 0, tension: 0.3 }),
    lineDs([{ x: -1.2, y: -1.2 }, { x: 1.3, y: 1.3 }], { stroke: "#000000", w: 1 }),
    lineDs([{ x: x0, y: fit(x0) }, { x: x1, y: fit(x1) }], { stroke: "#3366FF", w: 2.6 }),
  ];
  finalizeOrder(ds);
  return {
    type: "scatter",
    data: { datasets: ds },
    options: baseOptions({ left: 0, top: 35, right: 110, bottom: 0 }, {
      x: classicScale({ min: xMinC, max: xMaxC, major: ticksC, fitH: 54 }),
      y: classicScale({ min: yMinC, max: yMaxC, major: ticksC, fitW: 101 }),
    }),
    plugins: [{
      id: "decorC",
      beforeDatasetsDraw(chart: any) {
        const { ctx, chartArea: ca, scales } = chart;
        const cx = new Map<number, number>();
        const cy = new Map<number, number>();
        for (const p of ptsC) {
          const px = Math.round(scales.x.getPixelForValue(p[0]));
          const py = Math.round(scales.y.getPixelForValue(p[1]));
          cx.set(px, (cx.get(px) || 0) + 1);
          cy.set(py, (cy.get(py) || 0) + 1);
        }
        ctx.save();
        ctx.lineWidth = 1;
        cx.forEach((c, px) => {
          ctx.strokeStyle = `rgba(0,0,0,${Math.min(0.2, 0.05 * c)})`;
          ctx.beginPath(); ctx.moveTo(px + 0.5, ca.bottom); ctx.lineTo(px + 0.5, ca.bottom - 12.8); ctx.stroke();
        });
        cy.forEach((c, py) => {
          ctx.strokeStyle = `rgba(0,0,0,${Math.min(0.2, 0.05 * c)})`;
          ctx.beginPath(); ctx.moveTo(ca.left, py + 0.5); ctx.lineTo(ca.left + 12.8, py + 0.5); ctx.stroke();
        });
        ctx.restore();
      },
      afterDraw(chart: any) {
        const { ctx } = chart;
        text(ctx, "C", 10, 18, { size: 15, weight: "bold" });
        richText(ctx, [["R", true], [" = " + corrR.toFixed(2) + ", ", false], ["p", true], [" < 2.2e" + MINUS + "16", false]], 122, 67, 16, "#000000");
        richText(ctx, [["y", true], [" = " + regIntercept.toFixed(2) + " + " + regSlope.toFixed(2) + " ", false], ["x", true]], 132, 118, 16, "#3366FF");
        text(ctx, "Density", 562, 186, { size: 21 });
        colorbar(ctx, 562, 205, 23, 117, cbC_min, cbC_max, cbC_ticks, cbC_ticks.map(String), 596, 18);
        text(ctx, "|YG| " + MINUS + " |PD|", 40, 263, { size: 21, align: "center", rotate: -Math.PI / 2 });
        text(ctx, "|YG| " + MINUS + " |HA|", 320, 505, { size: 21, align: "center" });
      },
    }],
  };
}

/* ================= Panel D ================= */
function makeD() {
  const ds: any[] = [];
  contourX.forEach((xs, i) => ds.push(lineDs(polyPts(xs, contourY[i]), { fill: contourColors[i], w: 0, tension: 0.4 })));
  ds.push(lineDs([{ x: 0, y: -1.203 }, { x: 0, y: 1.19 }], { stroke: "#555555", w: 1, dash: [4, 3] }));
  ds.push(lineDs([{ x: -1.222, y: 0 }, { x: 1.2, y: 0 }], { stroke: "#555555", w: 1, dash: [4, 3] }));
  finalizeOrder(ds);
  return {
    type: "scatter",
    data: { datasets: ds },
    options: baseOptions({ left: 0, top: 35, right: 150, bottom: 0 }, {
      x: classicScale({ min: -1.222, max: 1.222, major: ticksD, fitH: 54 }),
      y: classicScale({ min: -1.203, max: 1.208, major: ticksD, fitW: 75 }),
    }),
    plugins: [{
      id: "decorD",
      afterDraw(chart: any) {
        const { ctx } = chart;
        text(ctx, "D", 10, 18, { size: 15, weight: "bold" });
        text(ctx, "Density level", 525, 186, { size: 21 });
        colorbar(ctx, 525, 205, 22, 117, cbD_min, cbD_max, cbD_ticks, cbD_ticks.map((v) => v.toFixed(2)), 560, 18);
        text(ctx, "rna ~ prot (PD)", 12, 250, { size: 21, align: "center", rotate: -Math.PI / 2 });
        text(ctx, "rna ~ prot (HA)", 289, 505, { size: 21, align: "center" });
      },
    }],
  };
}

/* ================= components ================= */
function ChartBox(props: { left: number; top: number; width: number; height: number; make: () => any }) {
  const ref = useRef<HTMLCanvasElement | null>(null);
  useEffect(() => {
    if (!ref.current) return;
    const chart = new Chart(ref.current, props.make());
    return () => chart.destroy();
  }, []);
  return (
    <canvas
      ref={ref}
      width={props.width}
      height={props.height}
      style={{ position: "absolute", left: props.left, top: props.top, width: props.width, height: props.height }}
    />
  );
}

export default function App() {
  return (
    <div style={{ position: "absolute", left: 0, top: 0, width: 1305, height: 1057, background: "#ffffff", overflow: "hidden" }}>
      <ChartBox left={0} top={0} width={650} height={540} make={makeA} />
      <ChartBox left={650} top={0} width={655} height={540} make={makeB} />
      <ChartBox left={0} top={540} width={650} height={517} make={makeC} />
      <ChartBox left={650} top={540} width={655} height={517} make={makeD} />
    </div>
  );
}
